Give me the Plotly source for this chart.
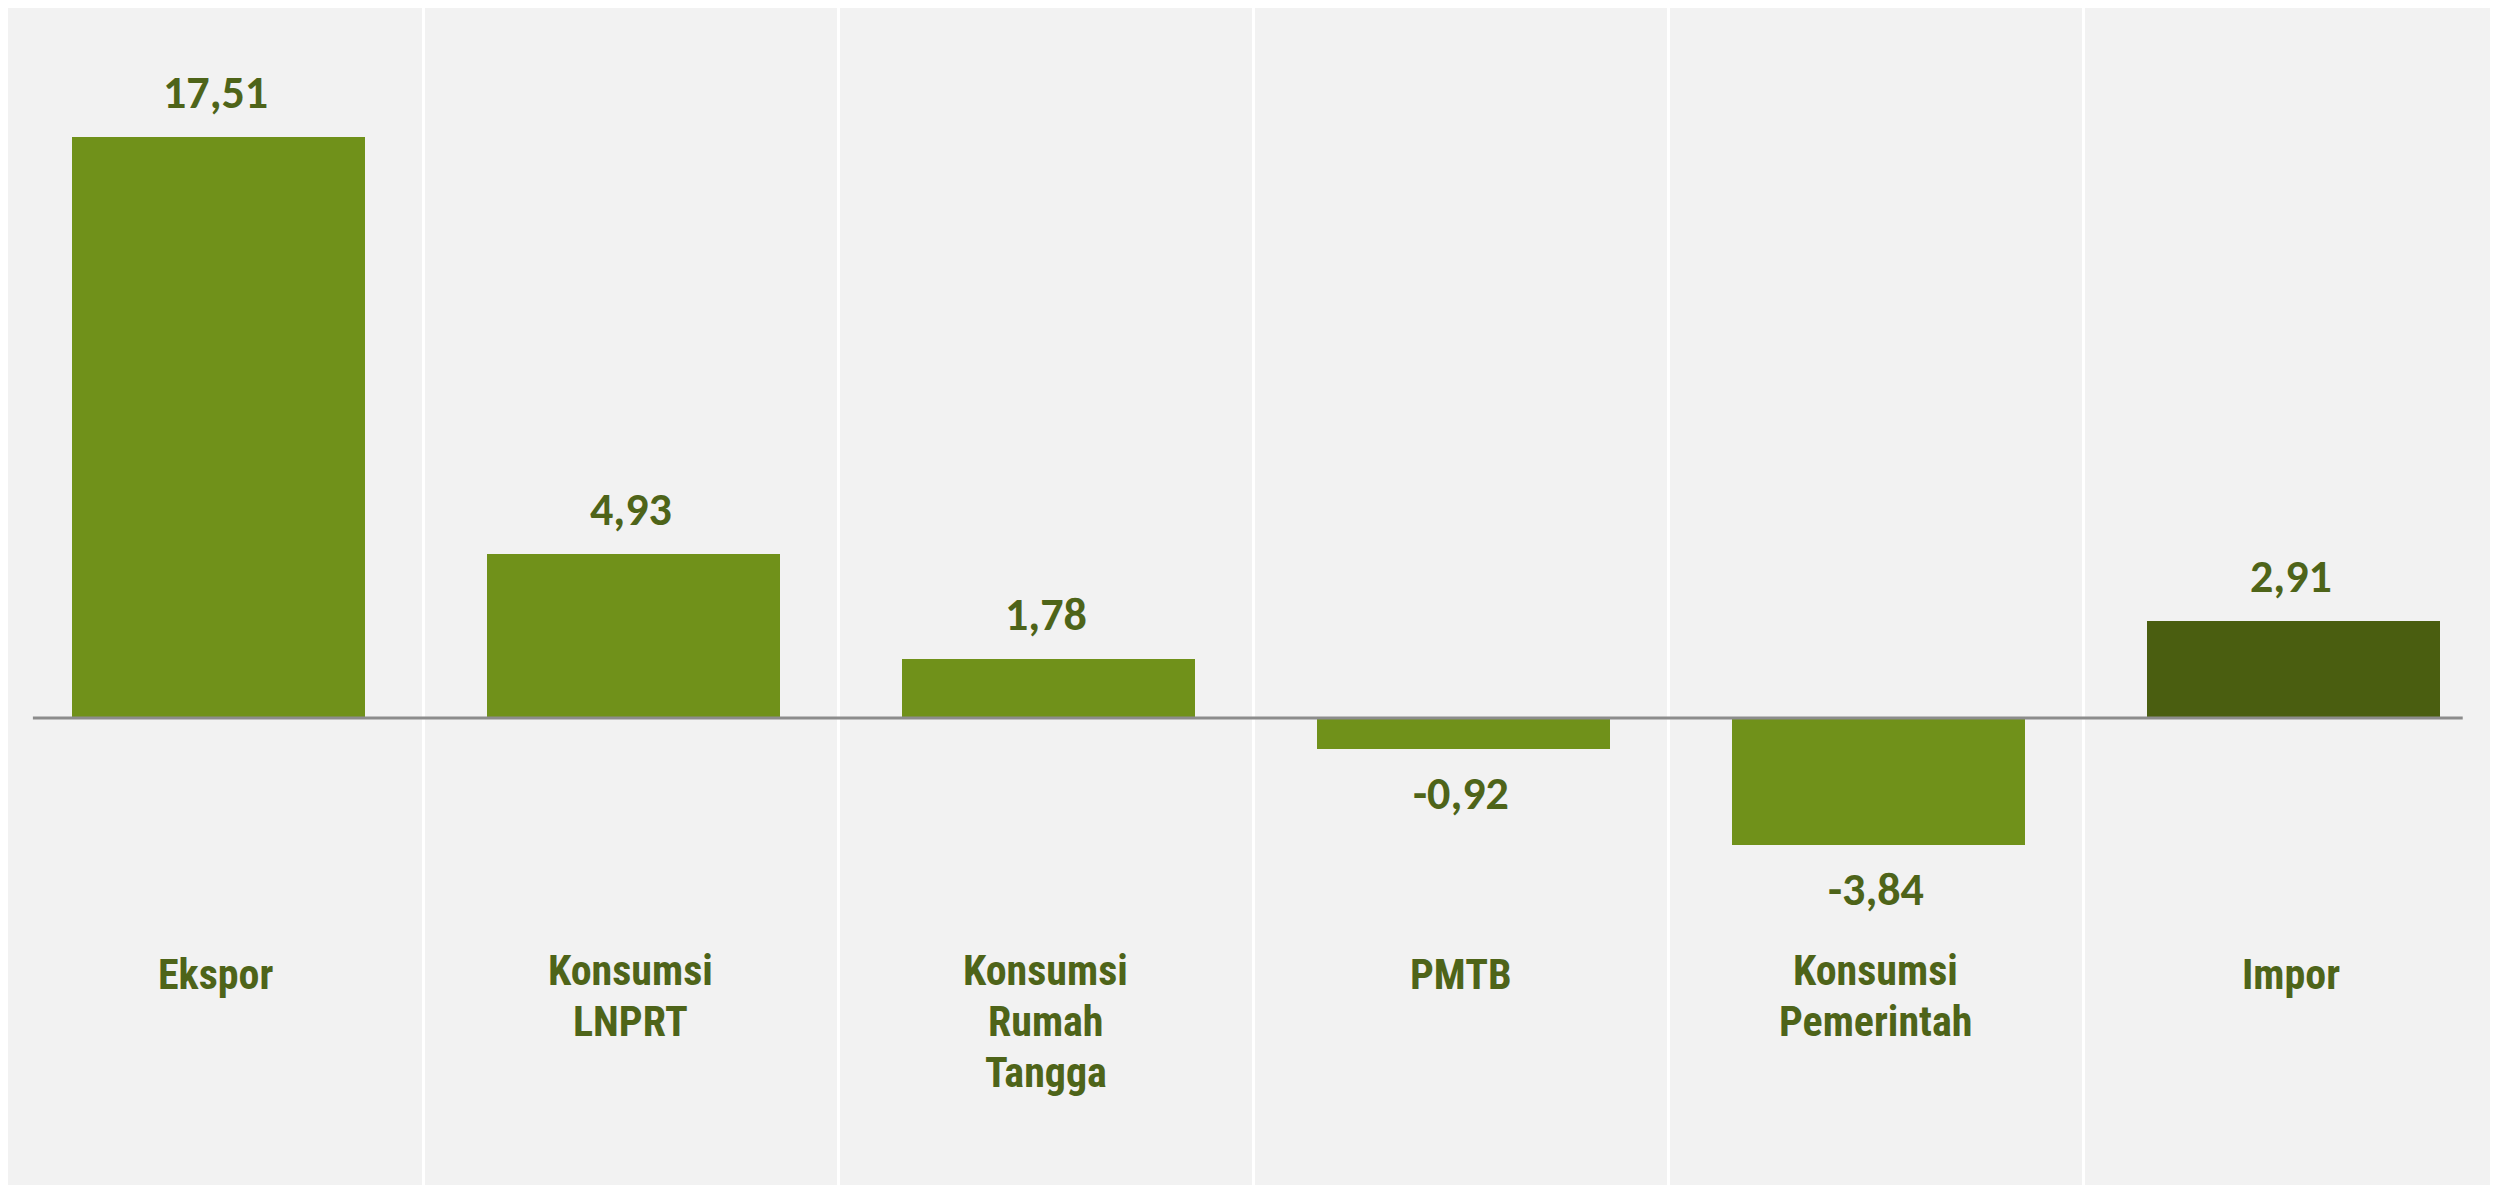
import plotly.graph_objects as go

# Komponen pengeluaran dan nilainya (persen)
categories = ["Ekspor", "Konsumsi LNPRT", "Konsumsi Rumah Tangga", "PMTB",
              "Konsumsi Pemerintah", "Impor"]
label_lines = [["Ekspor"], ["Konsumsi", "LNPRT"], ["Konsumsi", "Rumah", "Tangga"],
               ["PMTB"], ["Konsumsi", "Pemerintah"], ["Impor"]]
values = [17.51, 4.93, 1.78, -0.92, -3.84, 2.91]
value_labels = ["17,51", "4,93", "1,78", "-0,92", "-3,84", "2,91"]

GREEN = "#70911a"
DARK_GREEN = "#4a5e10"
TEXT = "#4e6419"
NARROW = "Liberation Sans Narrow, Arial Narrow, Roboto Condensed, sans-serif"
NUMFONT = "Carlito, Calibri, Lato, sans-serif"

bar_colors = [GREEN] * 5 + [DARK_GREEN]

fig = go.Figure()
fig.add_trace(go.Bar(
    x=categories,
    y=values,
    marker=dict(color=bar_colors, line=dict(width=0)),
    width=0.705,
    offset=-0.345,
    hoverinfo="skip",
))

# zero line
fig.add_shape(type="line", xref="x", yref="y", x0=-0.44, x1=5.415, y0=0, y1=0,
              line=dict(color="#8c8c8c", width=3), layer="above")

# value labels
for cat, v, lab in zip(categories, values, value_labels):
    fig.add_annotation(
        x=cat, y=v, text=f"<b>{lab}</b>", showarrow=False,
        yanchor="bottom" if v > 0 else "top",
        yshift=15 if v > 0 else -14,
        font=dict(family=NUMFONT, size=46, color=TEXT),
    )

# category labels, one line at a time
for cat, lines in zip(categories, label_lines):
    y0 = -7.72 if len(lines) == 1 else -7.6
    for i, line in enumerate(lines):
        fig.add_annotation(
            x=cat, y=y0, text=f"<b>{line}</b>", showarrow=False,
            yanchor="middle", yshift=-51 * i,
            font=dict(family=NARROW, size=42, color=TEXT),
        )

# the page body adds 8px around the figure
fig.update_layout(
    width=2490, height=1177,
    margin=dict(l=0, r=0, t=0, b=0),
    paper_bgcolor="white",
    plot_bgcolor="#f2f2f2",
    showlegend=False,
    bargap=0,
)
fig.update_xaxes(tickson="boundaries", showgrid=True, gridcolor="white", gridwidth=3,
                 showticklabels=False, ticks="", showline=False, zeroline=False,
                 range=[-0.5, 5.5])
fig.update_yaxes(range=[-14.07, 21.39], showgrid=False, zeroline=False,
                 showticklabels=False, showline=False)

fig.write_html("out.html")
